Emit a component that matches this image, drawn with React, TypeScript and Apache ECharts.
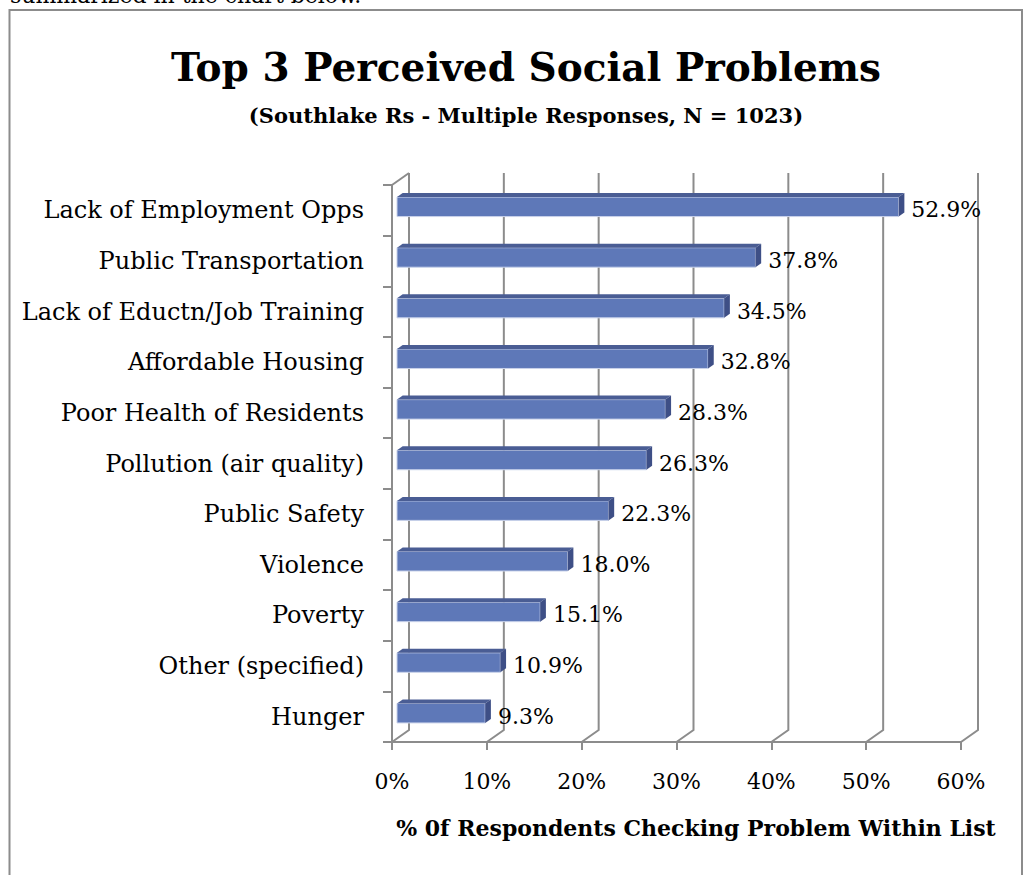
import React, { useEffect, useRef } from "react";
import * as echarts from "echarts";

const categories = [
  "Lack of Employment Opps",
  "Public Transportation",
  "Lack of Eductn/Job Training",
  "Affordable Housing",
  "Poor Health of Residents",
  "Pollution (air quality)",
  "Public Safety",
  "Violence",
  "Poverty",
  "Other (specified)",
  "Hunger",
];
const values = [52.9, 37.8, 34.5, 32.8, 28.3, 26.3, 22.3, 18.0, 15.1, 10.9, 9.3];
const xTicks = [0, 10, 20, 30, 40, 50, 60];

const titleText = "Top 3 Perceived Social Problems";
const subtitleText = "(Southlake Rs - Multiple Responses, N = 1023)";
const xAxisTitle = "% 0f Respondents Checking Problem Within List";
const topCutText = "summarized in the chart below.";

const FONT = '"DejaVu Serif", serif';
const GRAY = "#8c8c8c";
const DX = 17; // depth offset x
const DY = -12; // depth offset y

export default function App() {
  const ref = useRef<HTMLDivElement>(null);

  useEffect(() => {
    if (!ref.current) return;
    const chart = echarts.init(ref.current, undefined, { renderer: "svg" });

    const option: any = {
      animation: false,
      backgroundColor: "#ffffff",
      grid: { left: 392, top: 185, width: 569, height: 557, containLabel: false },
      xAxis: {
        type: "value",
        min: 0,
        max: 60,
        interval: 10,
        axisLine: { show: true, lineStyle: { color: GRAY, width: 2 } },
        axisTick: { show: true, length: 8, lineStyle: { color: GRAY, width: 2 } },
        splitLine: { show: false },
        axisLabel: {
          formatter: "{value}%",
          color: "#000",
          fontFamily: FONT,
          fontSize: 22,
          margin: 28,
        },
      },
      yAxis: {
        type: "category",
        data: categories,
        inverse: true,
        axisLine: { show: true, lineStyle: { color: GRAY, width: 2 } },
        axisTick: { show: true, length: 9, lineStyle: { color: GRAY, width: 2 } },
        splitLine: { show: false },
        axisLabel: {
          color: "#000",
          fontFamily: FONT,
          fontSize: 24,
          margin: 28,
          padding: [10, 0, 0, 0],
        },
      },
      series: [
        {
          type: "custom",
          name: "frame",
          z: 1,
          silent: true,
          data: xTicks.map((v) => [v, 0]),
          renderItem: (params: any, api: any) => {
            const cs = params.coordSys;
            const x = api.coord([api.value(0), 0])[0];
            const top = cs.y;
            const bottom = cs.y + cs.height;
            const children: any[] = [
              {
                type: "polyline",
                shape: {
                  points: [
                    [x + DX, top + DY],
                    [x + DX, bottom + DY],
                    [x, bottom],
                  ],
                },
                style: { stroke: GRAY, lineWidth: 2, fill: "none" },
              },
            ];
            if (api.value(0) === 0) {
              children.push({
                type: "line",
                shape: { x1: x, y1: top, x2: x + DX, y2: top + DY },
                style: { stroke: GRAY, lineWidth: 2 },
              });
            }
            return { type: "group", children };
          },
        },
        {
          type: "custom",
          name: "bars",
          z: 3,
          data: values.map((v, i) => [v, i]),
          renderItem: (params: any, api: any) => {
            const v = api.value(0);
            const c = api.value(1);
            const s = api.coord([0, c]);
            const e = api.coord([v, c]);
            const band = api.size([0, 1])[1];
            const h = band * 0.385;
            const fx0 = s[0] + 5;
            const fx1 = e[0] + 5;
            const fy0 = s[1] - h / 2 - 3.5;
            const fy1 = fy0 + h;
            const ddx = 5.7;
            const ddy = -4;
            return {
              type: "group",
              children: [
                {
                  type: "rect",
                  shape: { x: fx0, y: fy0, width: fx1 - fx0, height: h },
                  style: { fill: "#5E78B8", stroke: "#C9D2EA", lineWidth: 1 },
                },
                {
                  type: "polygon",
                  shape: {
                    points: [
                      [fx0, fy0],
                      [fx1, fy0],
                      [fx1 + ddx, fy0 + ddy],
                      [fx0 + ddx, fy0 + ddy],
                    ],
                  },
                  style: { fill: "#4A5D94" },
                },
                {
                  type: "polygon",
                  shape: {
                    points: [
                      [fx1, fy0],
                      [fx1 + ddx, fy0 + ddy],
                      [fx1 + ddx, fy1 + ddy],
                      [fx1, fy1],
                    ],
                  },
                  style: { fill: "#3E4F86" },
                },
                {
                  type: "text",
                  x: fx1 + ddx + 7,
                  y: (fy0 + fy1) / 2 + 3,
                  style: {
                    text: v.toFixed(1) + "%",
                    fill: "#000",
                    fontFamily: FONT,
                    fontSize: 22,
                    align: "left",
                    verticalAlign: "middle",
                  },
                },
              ],
            };
          },
        },
      ],
      graphic: [
        {
          type: "rect",
          silent: true,
          z: -10,
          shape: { x: 9.5, y: 10, width: 1012.5, height: 900 },
          style: { fill: "none", stroke: GRAY, lineWidth: 2 },
        },
        {
          type: "text",
          x: 10,
          y: 6,
          style: {
            text: topCutText,
            fill: "#000",
            fontFamily: FONT,
            fontSize: 22,
            align: "left",
            verticalAlign: "bottom",
          },
        },
        {
          type: "text",
          x: 526,
          y: 67,
          style: {
            text: titleText,
            fill: "#000",
            fontFamily: FONT,
            fontWeight: "bold",
            fontSize: 39,
            align: "center",
            verticalAlign: "middle",
          },
        },
        {
          type: "text",
          x: 526,
          y: 115,
          style: {
            text: subtitleText,
            fill: "#000",
            fontFamily: FONT,
            fontWeight: "bold",
            fontSize: 21,
            align: "center",
            verticalAlign: "middle",
          },
        },
        {
          type: "text",
          x: 696,
          y: 828,
          style: {
            text: xAxisTitle,
            fill: "#000",
            fontFamily: FONT,
            fontWeight: "bold",
            fontSize: 22,
            align: "center",
            verticalAlign: "middle",
          },
        },
      ],
    };

    chart.setOption(option);
    return () => chart.dispose();
  }, []);

  return (
    <div
      ref={ref}
      style={{ position: "absolute", left: 0, top: 0, width: 1027, height: 875 }}
    />
  );
}
